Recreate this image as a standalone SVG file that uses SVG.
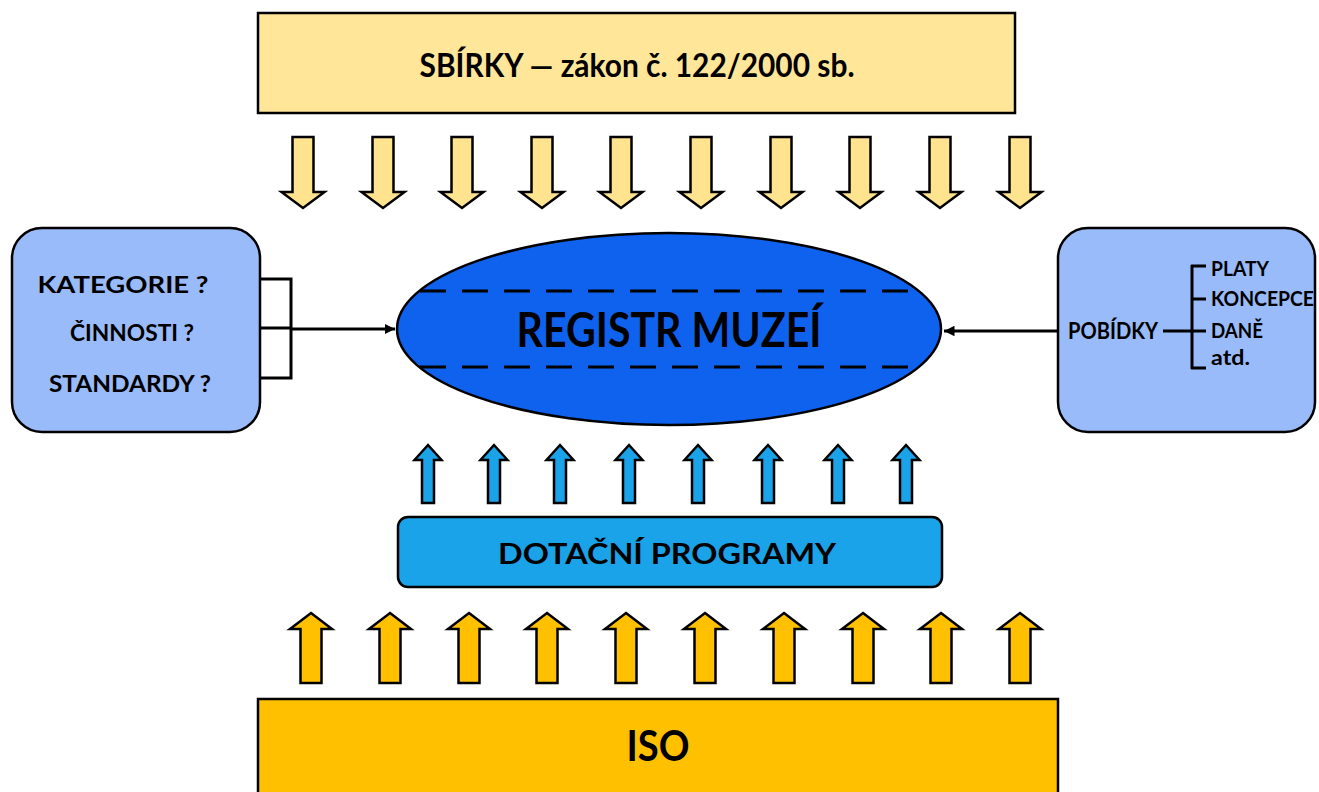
<svg xmlns="http://www.w3.org/2000/svg" xmlns:xlink="http://www.w3.org/1999/xlink" width="1319" height="792" viewBox="0 0 1319 792">
<style>
  text { font-family: Lato, "Open Sans", "Liberation Sans", sans-serif; font-weight: bold; fill: #000; }
  .box { stroke: #000; stroke-width: 2.5; }
  .arr { stroke: #000; stroke-width: 2.5; stroke-linejoin: miter; }
  .ln { stroke: #000; stroke-width: 3; fill: none; }
  .dash { stroke: #000; stroke-width: 3; stroke-dasharray: 26 16; fill: none; }
</style>
<defs>
  <path id="down" d="M-10.5,0 H10.5 V55 H21.5 L0,71 L-21.5,55 H-10.5 Z"/>
  <path id="upb" d="M0,0 L13.5,15 H6 V58 H-6 V15 H-13.5 Z"/>
  <path id="upo" d="M0,0 L21,16 H10.5 V70 H-10.5 V16 H-21 Z"/>
  <marker id="ah" viewBox="0 0 10 10" refX="10" refY="5" markerWidth="3.5" markerHeight="3.5" orient="auto" markerUnits="strokeWidth">
    <path d="M0,0 L10,5 L0,10 Z" fill="#000"/>
  </marker>
</defs>

<g id="sbirky">
  <rect class="box" x="258" y="13" width="757" height="100" fill="#FFE699"/>
  <text x="637" y="77" font-size="33" text-anchor="middle" textLength="435" lengthAdjust="spacingAndGlyphs">SBÍRKY — zákon č. 122/2000 sb.</text>
</g>

<g id="sbirky-arrows" fill="#FFE38F" class="arr">
  <use xlink:href="#down" x="303" y="137"/>
  <use xlink:href="#down" x="383" y="137"/>
  <use xlink:href="#down" x="462" y="137"/>
  <use xlink:href="#down" x="542" y="137"/>
  <use xlink:href="#down" x="621" y="137"/>
  <use xlink:href="#down" x="701" y="137"/>
  <use xlink:href="#down" x="781" y="137"/>
  <use xlink:href="#down" x="860" y="137"/>
  <use xlink:href="#down" x="940" y="137"/>
  <use xlink:href="#down" x="1020" y="137"/>
</g>

<g id="left-box">
  <rect class="box" x="12" y="228" width="248" height="204" rx="30" fill="#99BBF9"/>
  <text x="123" y="293" font-size="23" text-anchor="middle" textLength="171" lengthAdjust="spacingAndGlyphs">KATEGORIE ?</text>
  <text x="132" y="341" font-size="23" text-anchor="middle" textLength="124" lengthAdjust="spacingAndGlyphs">ČINNOSTI ?</text>
  <text x="130" y="392" font-size="23" text-anchor="middle" textLength="162" lengthAdjust="spacingAndGlyphs">STANDARDY ?</text>
</g>

<g id="registr">
  <ellipse class="box" cx="669" cy="329" rx="272" ry="96" fill="#0F62EE"/>
  <line class="dash" x1="420" y1="291" x2="918" y2="291"/>
  <line class="dash" x1="420" y1="367" x2="918" y2="367"/>
  <text x="669" y="347" font-size="47" text-anchor="middle" textLength="305" lengthAdjust="spacingAndGlyphs">REGISTR MUZEÍ</text>
</g>

<g id="right-box">
  <rect class="box" x="1058" y="228" width="257" height="204" rx="30" fill="#99BBF9"/>
  <text x="1068" y="339" font-size="22" textLength="90" lengthAdjust="spacingAndGlyphs">POBÍDKY</text>
  <path class="ln" d="M1163,331 H1192 M1192,265 V369 M1191,266 H1206 M1192,299 H1206 M1192,331 H1206 M1191,368 H1206"/>
  <text x="1211" y="276" font-size="20" textLength="58" lengthAdjust="spacingAndGlyphs">PLATY</text>
  <text x="1211" y="306" font-size="20" textLength="103" lengthAdjust="spacingAndGlyphs">KONCEPCE</text>
  <text x="1211" y="338" font-size="20" textLength="52" lengthAdjust="spacingAndGlyphs">DANĚ</text>
  <text x="1211" y="365" font-size="20" textLength="39" lengthAdjust="spacingAndGlyphs">atd.</text>
</g>

<g id="dotacni">
  <rect class="box" x="398" y="517" width="544" height="70" rx="10" fill="#1AA3E8"/>
  <text x="667" y="564" font-size="29" text-anchor="middle" textLength="338" lengthAdjust="spacingAndGlyphs">DOTAČNÍ PROGRAMY</text>
</g>

<g id="dotacni-arrows" fill="#1AA3E8" class="arr">
  <use xlink:href="#upb" x="428" y="445"/>
  <use xlink:href="#upb" x="494" y="445"/>
  <use xlink:href="#upb" x="560" y="445"/>
  <use xlink:href="#upb" x="629" y="445"/>
  <use xlink:href="#upb" x="698" y="445"/>
  <use xlink:href="#upb" x="768" y="445"/>
  <use xlink:href="#upb" x="838" y="445"/>
  <use xlink:href="#upb" x="906" y="445"/>
</g>

<g id="iso">
  <rect class="box" x="258" y="699" width="800" height="110" fill="#FFC000"/>
  <text x="658" y="761" font-size="42" text-anchor="middle" textLength="63" lengthAdjust="spacingAndGlyphs">ISO</text>
</g>

<g id="iso-arrows" fill="#FFC000" class="arr">
  <use xlink:href="#upo" x="311" y="613"/>
  <use xlink:href="#upo" x="390" y="613"/>
  <use xlink:href="#upo" x="469" y="613"/>
  <use xlink:href="#upo" x="547" y="613"/>
  <use xlink:href="#upo" x="626" y="613"/>
  <use xlink:href="#upo" x="705" y="613"/>
  <use xlink:href="#upo" x="784" y="613"/>
  <use xlink:href="#upo" x="863" y="613"/>
  <use xlink:href="#upo" x="941" y="613"/>
  <use xlink:href="#upo" x="1020" y="613"/>
</g>

<g id="connectors">
  <path class="ln" d="M260,279 H291 V378 H260 M260,328 H291"/>
  <line class="ln" x1="291" y1="329" x2="395" y2="329" marker-end="url(#ah)"/>
  <line class="ln" x1="1058" y1="331" x2="944" y2="331" marker-end="url(#ah)"/>
</g>
</svg>
